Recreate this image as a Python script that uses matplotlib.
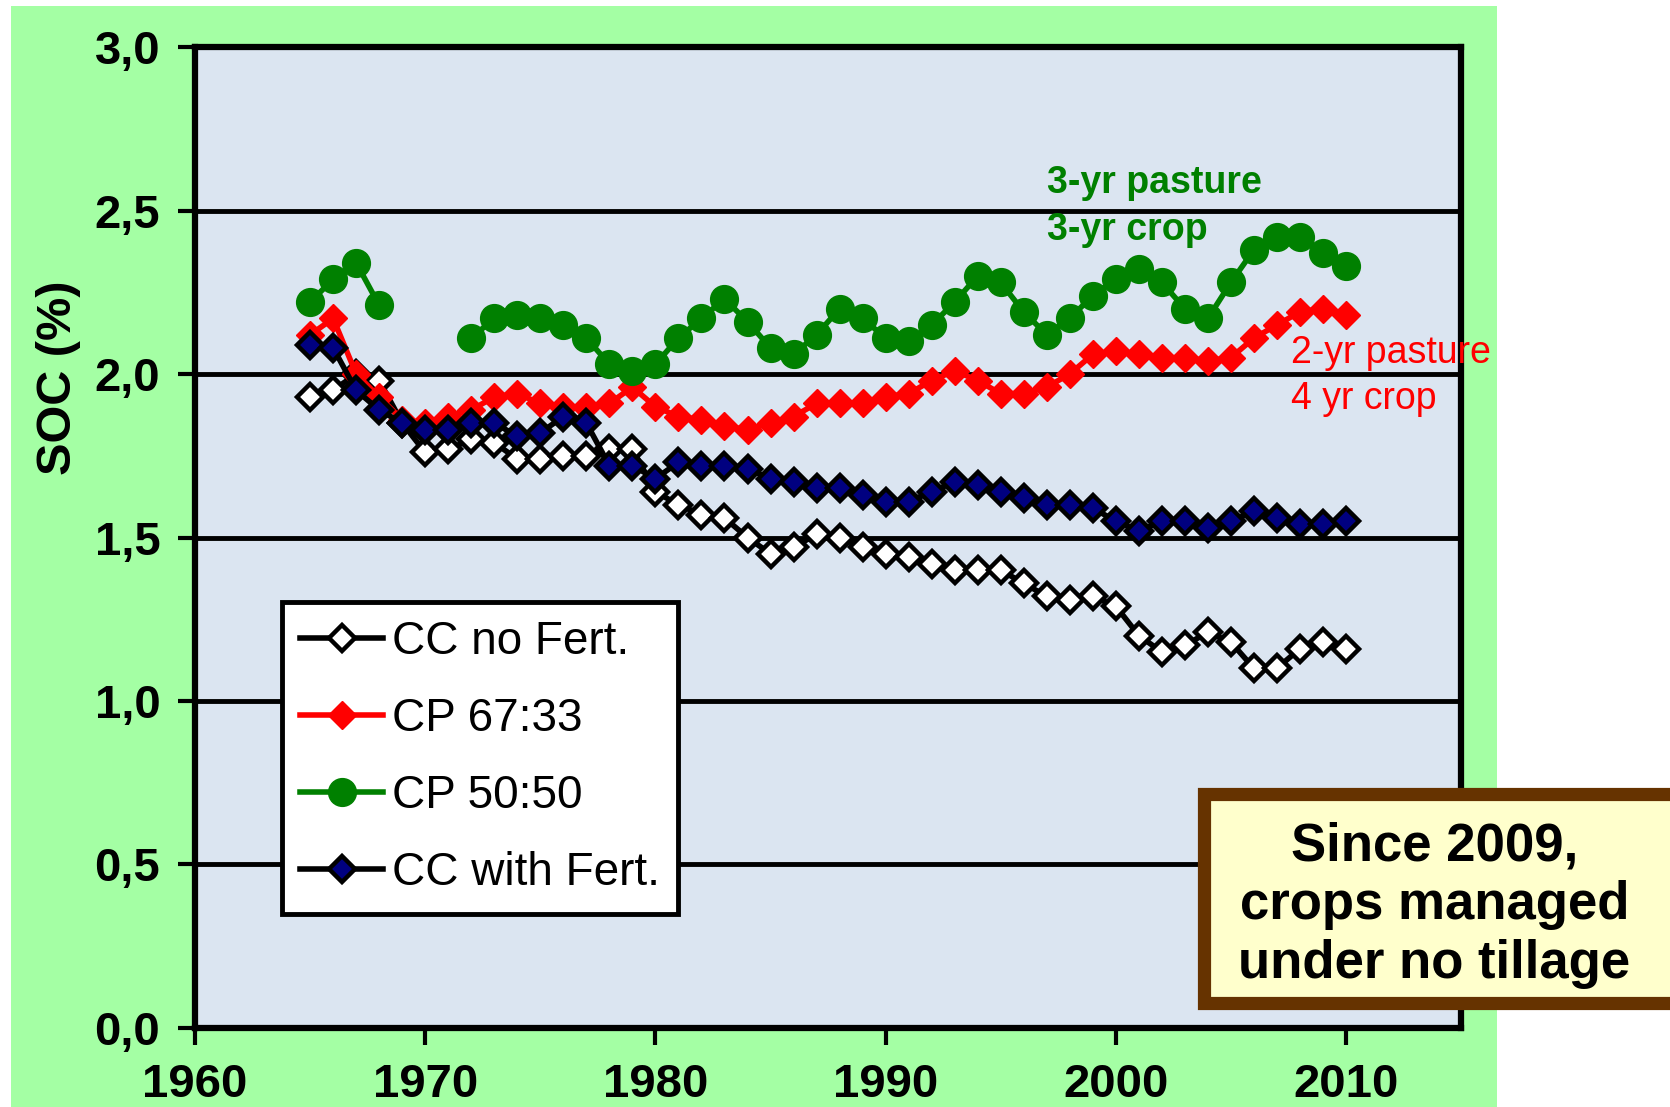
import matplotlib
matplotlib.use("Agg")
import matplotlib.pyplot as plt
from matplotlib.patches import Rectangle
import numpy as np

plt.rcParams['font.family'] = ['Liberation Sans', 'DejaVu Sans']

# datos
years = list(range(1965, 2011))

cc_no_fert = [1.93, 1.95, 2.00, 1.98, 1.85, 1.76, 1.77, 1.80, 1.79, 1.74,
              1.74, 1.75, 1.75, 1.77, 1.77, 1.64, 1.60, 1.57, 1.56, 1.50,
              1.45, 1.47, 1.51, 1.50, 1.47, 1.45, 1.44, 1.42, 1.40, 1.40,
              1.40, 1.36, 1.32, 1.31, 1.32, 1.29, 1.20, 1.15, 1.17, 1.21,
              1.18, 1.10, 1.10, 1.16, 1.18, 1.16]

cp_67_33 = [2.12, 2.17, 2.00, 1.93, 1.86, 1.85, 1.87, 1.89, 1.93, 1.94,
            1.91, 1.90, 1.90, 1.91, 1.96, 1.90, 1.87, 1.86, 1.84, 1.83,
            1.85, 1.87, 1.91, 1.91, 1.91, 1.93, 1.94, 1.98, 2.01, 1.98,
            1.94, 1.94, 1.96, 2.00, 2.06, 2.07, 2.06, 2.05, 2.05, 2.04,
            2.05, 2.11, 2.15, 2.19, 2.20, 2.18]

cp_50_50 = [2.22, 2.29, 2.34, 2.21, np.nan, np.nan, np.nan, 2.11, 2.17, 2.18,
            2.17, 2.15, 2.11, 2.03, 2.01, 2.03, 2.11, 2.17, 2.23, 2.16,
            2.08, 2.06, 2.12, 2.20, 2.17, 2.11, 2.10, 2.15, 2.22, 2.30,
            2.28, 2.19, 2.12, 2.17, 2.24, 2.29, 2.32, 2.28, 2.20, 2.17,
            2.28, 2.38, 2.42, 2.42, 2.37, 2.33]

cc_fert = [2.09, 2.08, 1.95, 1.89, 1.85, 1.83, 1.83, 1.85, 1.85, 1.81,
           1.82, 1.87, 1.85, 1.72, 1.72, 1.68, 1.73, 1.72, 1.72, 1.71,
           1.68, 1.67, 1.65, 1.65, 1.63, 1.61, 1.61, 1.64, 1.67, 1.66,
           1.64, 1.62, 1.60, 1.60, 1.59, 1.55, 1.52, 1.55, 1.55, 1.53,
           1.55, 1.58, 1.56, 1.54, 1.54, 1.55]

yticks = [0.0, 0.5, 1.0, 1.5, 2.0, 2.5, 3.0]
ytick_labels = ['0,0', '0,5', '1,0', '1,5', '2,0', '2,5', '3,0']
xticks = [1960, 1970, 1980, 1990, 2000, 2010]

fig = plt.figure(figsize=(16.7, 11.07), dpi=100)
fig.patch.set_facecolor('white')

# fondo verde (detras de todo)
fig.patches.append(Rectangle((0.0063, 0.0), 0.8901, 0.9946, transform=fig.transFigure,
                             facecolor='#A4FFA4', edgecolor='none', zorder=-10))

ax = fig.add_axes([0.1168, 0.0714, 0.7581, 0.8861])
ax.set_facecolor('#DBE5F1')
ax.set_axisbelow(True)

ax.plot(years, cc_no_fert, color='black', lw=4, marker='D', ms=13,
        mfc='white', mec='black', mew=3.2, label='CC no Fert.', zorder=3)
ax.plot(years, cp_67_33, color='#FF0000', lw=4, marker='D', ms=14.5,
        mfc='#FF0000', mec='#FF0000', mew=1, label='CP 67:33', zorder=4)
ax.plot(years, cp_50_50, color='#008000', lw=4, marker='o', ms=20,
        mfc='#008000', mec='#008000', label='CP 50:50', zorder=5)
ax.plot(years, cc_fert, color='black', lw=4, marker='D', ms=13,
        mfc='#000080', mec='black', mew=3.2, label='CC with Fert.', zorder=6)

ax.set_xlim(1960, 2015)
ax.set_ylim(0, 3.0)
ax.set_yticks(yticks)
ax.set_yticklabels(ytick_labels)
ax.set_xticks(xticks)
ax.yaxis.grid(True, color='black', lw=3.5)
ax.xaxis.grid(False)

for s in ax.spines.values():
    s.set_linewidth(4.5)
    s.set_color('black')

ax.tick_params(axis='both', direction='out', length=12, width=3, labelsize=34, pad=13)
for lab in ax.get_xticklabels() + ax.get_yticklabels():
    lab.set_fontweight('bold')

fig.text(0.035, 1 - 378 / 1107, 'SOC (%)', rotation=90, fontsize=35,
         fontweight='bold', ha='center', va='center')

leg = ax.legend(loc='upper left', bbox_to_anchor=(0.1689, 0.4562),
                bbox_transform=fig.transFigure, fontsize=33, numpoints=1,
                handlelength=1.8, handletextpad=0.2, labelspacing=0.72,
                borderpad=0.4, borderaxespad=0, fancybox=False, framealpha=1)
leg.get_frame().set_edgecolor('black')
leg.get_frame().set_linewidth(3.5)

# anotaciones de las rotaciones
ax.text(1997.0, 2.585, '3-yr pasture', color='#008000', fontsize=27,
        fontweight='bold', ha='left', va='center')
ax.text(1997.0, 2.44, '3-yr crop', color='#008000', fontsize=27,
        fontweight='bold', ha='left', va='center')
ax.text(2007.6, 2.065, '2-yr pasture', color='#FF0000', fontsize=27,
        ha='left', va='center', clip_on=False)
ax.text(2007.6, 1.925, '4 yr crop', color='#FF0000', fontsize=27,
        ha='left', va='center', clip_on=False)

# recuadro de labranza cero
fig.patches.append(Rectangle((0.7212, 0.0935), 0.30, 0.189, transform=fig.transFigure,
                             facecolor='#FFFFCC', edgecolor='#663300', lw=9.5, zorder=10))
fig.text(0.859, 1 - 905 / 1107, 'Since 2009,\ncrops managed\nunder no tillage',
         fontsize=38, fontweight='bold', ha='center', va='center',
         linespacing=1.22, zorder=11)

fig.savefig('out.png', dpi=100)
